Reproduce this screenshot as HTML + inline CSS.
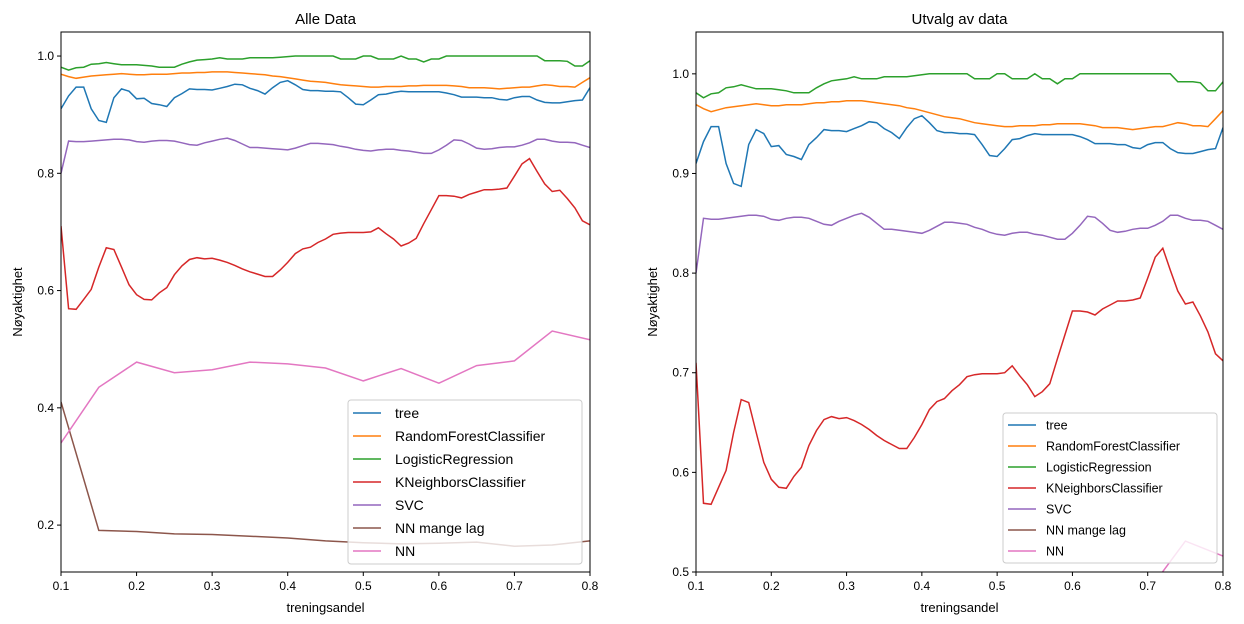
<!DOCTYPE html>
<html><head><meta charset="utf-8"><style>
html,body{margin:0;padding:0;background:#fff;overflow:hidden;width:1244px;height:624px;}
svg{display:block;}
svg text{font-family:"Liberation Sans",sans-serif;fill:#000;}
</style></head><body>
<svg id="c" width="1244" height="624" xmlns="http://www.w3.org/2000/svg"></svg>
<script>
const xs = [];
for (let i = 0; i <= 70; i++) xs.push(+(0.10 + i * 0.01).toFixed(2));
const xsNN = [0.10,0.15,0.20,0.25,0.30,0.35,0.40,0.45,0.50,0.55,0.60,0.65,0.70,0.75,0.80];
const seriesNames = ["tree","RandomForestClassifier","LogisticRegression","KNeighborsClassifier","SVC","NN mange lag","NN"];
const seriesColors = ["#1f77b4","#ff7f0e","#2ca02c","#d62728","#9467bd","#8c564b","#e377c2"];
const treeVals = [0.910,0.932,0.947,0.947,0.910,0.890,0.887,0.929,0.944,0.940,0.927,0.928,0.919,0.917,0.914,0.929,0.936,0.944,0.943,0.943,0.942,0.945,0.948,0.952,0.951,0.945,0.941,0.935,0.946,0.955,0.958,0.951,0.943,0.941,0.941,0.940,0.940,0.939,0.929,0.918,0.917,0.925,0.934,0.935,0.938,0.940,0.939,0.939,0.939,0.939,0.939,0.937,0.934,0.930,0.930,0.930,0.929,0.929,0.926,0.925,0.929,0.931,0.931,0.925,0.921,0.920,0.920,0.922,0.924,0.925,0.946];
const rfVals = [0.969,0.965,0.962,0.964,0.966,0.967,0.968,0.969,0.970,0.969,0.968,0.968,0.969,0.969,0.969,0.970,0.971,0.971,0.972,0.972,0.973,0.973,0.973,0.972,0.971,0.970,0.969,0.968,0.966,0.965,0.963,0.961,0.959,0.957,0.956,0.955,0.953,0.951,0.950,0.949,0.948,0.947,0.947,0.948,0.948,0.948,0.949,0.949,0.950,0.950,0.950,0.950,0.949,0.948,0.946,0.946,0.946,0.945,0.944,0.945,0.946,0.947,0.947,0.949,0.951,0.950,0.948,0.948,0.947,0.955,0.963];
const lrVals = [0.981,0.976,0.980,0.981,0.986,0.987,0.989,0.987,0.985,0.985,0.985,0.984,0.983,0.981,0.981,0.981,0.986,0.990,0.993,0.994,0.995,0.997,0.995,0.995,0.995,0.997,0.997,0.997,0.997,0.998,0.999,1.0,1.0,1.0,1.0,1.0,1.0,0.995,0.995,0.995,1.0,1.0,0.995,0.995,0.995,1.0,0.995,0.995,0.990,0.995,0.995,1.0,1.0,1.0,1.0,1.0,1.0,1.0,1.0,1.0,1.0,1.0,1.0,1.0,0.992,0.992,0.992,0.991,0.983,0.983,0.992];
const knnVals = [0.710,0.569,0.568,0.585,0.602,0.640,0.673,0.670,0.640,0.610,0.593,0.585,0.584,0.596,0.605,0.627,0.642,0.653,0.656,0.654,0.655,0.652,0.648,0.643,0.637,0.632,0.628,0.624,0.624,0.635,0.648,0.663,0.671,0.674,0.682,0.688,0.696,0.698,0.699,0.699,0.699,0.700,0.707,0.697,0.688,0.676,0.681,0.689,0.714,0.738,0.762,0.762,0.761,0.758,0.764,0.768,0.772,0.772,0.773,0.775,0.795,0.816,0.825,0.803,0.782,0.769,0.771,0.757,0.741,0.719,0.712];
const svcVals = [0.800,0.855,0.854,0.854,0.855,0.856,0.857,0.858,0.858,0.857,0.854,0.853,0.855,0.856,0.856,0.855,0.852,0.849,0.848,0.852,0.855,0.858,0.860,0.856,0.850,0.844,0.844,0.843,0.842,0.841,0.840,0.843,0.847,0.851,0.851,0.850,0.849,0.846,0.844,0.841,0.839,0.838,0.840,0.841,0.841,0.839,0.838,0.836,0.834,0.834,0.840,0.848,0.857,0.856,0.850,0.843,0.841,0.842,0.844,0.845,0.845,0.848,0.852,0.858,0.858,0.855,0.853,0.853,0.852,0.848,0.844];
const nnLagVals = [0.410,0.191,0.189,0.185,0.184,0.181,0.178,0.173,0.170,0.168,0.169,0.171,0.164,0.166,0.173];
const nnVals = [0.340,0.435,0.478,0.460,0.465,0.478,0.475,0.468,0.446,0.467,0.442,0.472,0.480,0.531,0.516];
const xTicks = [0.1,0.2,0.3,0.4,0.5,0.6,0.7,0.8];
const leftYTicks = [0.2,0.4,0.6,0.8,1.0];
const rightYTicks = [0.5,0.6,0.7,0.8,0.9,1.0];

const NS = "http://www.w3.org/2000/svg";
const svg = document.getElementById('c');
function mk(tag, attrs, parent){ const e=document.createElementNS(NS,tag); for(const k in attrs) e.setAttribute(k,attrs[k]); (parent||svg).appendChild(e); return e; }

function panel(id, L, R, T, B, ymin, ymax, yTicks, title, leg){
  const g = mk('g',{});
  
  
  const xS = v => L + (v-0.1)/0.7*(R-L);
  const yS = v => B - (v-ymin)/(ymax-ymin)*(B-T);
  const cp = mk('clipPath',{id:id+'clip'},g); mk('rect',{x:L,y:T,width:R-L,height:B-T},cp);
  const all = [[xs,treeVals],[xs,rfVals],[xs,lrVals],[xs,knnVals],[xs,svcVals],[xsNN,nnLagVals],[xsNN,nnVals]];
  all.forEach((s,i)=>{
    const d = s[0].map((x,j)=>(j?'L':'M')+xS(x).toFixed(1)+','+yS(s[1][j]).toFixed(1)).join('');
    const p = mk('path',{d:d,fill:'none',stroke:seriesColors[i],'stroke-width':1.5,'clip-path':'url(#'+id+'clip)'},g);
    
    
  });
  const fr = mk('rect',{x:L,y:T,width:R-L,height:B-T,fill:'none',stroke:'#000','stroke-width':1},g);
  
  
  xTicks.forEach(v=>{
    const x=xS(v);
    mk('line',{x1:x,x2:x,y1:B,y2:B+4,stroke:'#000'},g);
    const t=mk('text',{x:x,y:B+18,'text-anchor':'middle','font-size':12},g); t.textContent=v.toFixed(1);
    
    
  });
  yTicks.forEach(v=>{
    const y=yS(v);
    mk('line',{x1:L-4,x2:L,y1:y,y2:y,stroke:'#000'},g);
    const t=mk('text',{x:L-7,y:y+4,'text-anchor':'end','font-size':12},g); t.textContent=v.toFixed(1);
    
    
  });
  const tt=mk('text',{x:(L+R)/2,y:T-8,'text-anchor':'middle','font-size':15},g); tt.textContent=title;
  
  
  const xl=mk('text',{x:(L+R)/2,y:B+40,'text-anchor':'middle','font-size':13},g); xl.textContent='treningsandel';
  
  
  const yl=mk('text',{x:0,y:0,'text-anchor':'middle','font-size':13,transform:'translate('+(L-39)+','+((T+B)/2)+') rotate(-90)'},g); yl.textContent='Nøyaktighet';
  
  
  const lg = mk('g',{},g);
  
  
  mk('rect',{x:leg.x,y:leg.y,width:leg.w,height:leg.h,rx:3,fill:'#fff','fill-opacity':0.8,stroke:'#ccc'},lg);
  seriesNames.forEach((n,i)=>{
    const y=leg.y+leg.first+i*leg.step;
    mk('line',{x1:leg.x+5,x2:leg.x+33,y1:y,y2:y,stroke:seriesColors[i],'stroke-width':1.5},lg);
    const t=mk('text',{x:leg.x+leg.tx,y:y+leg.fs*0.36,'font-size':leg.fs},lg); t.textContent=n;
    
    
  });
}
panel('left',61,590,32,572,0.12,1.041,leftYTicks,'Alle Data',{x:348,y:400,w:234,h:164,first:13,step:23,tx:47,fs:14});
panel('right',696,1223,32,572,0.5,1.042,rightYTicks,'Utvalg av data',{x:1003,y:413,w:214,h:150,first:12,step:21,tx:43,fs:12.5});
</script>
</body></html>
